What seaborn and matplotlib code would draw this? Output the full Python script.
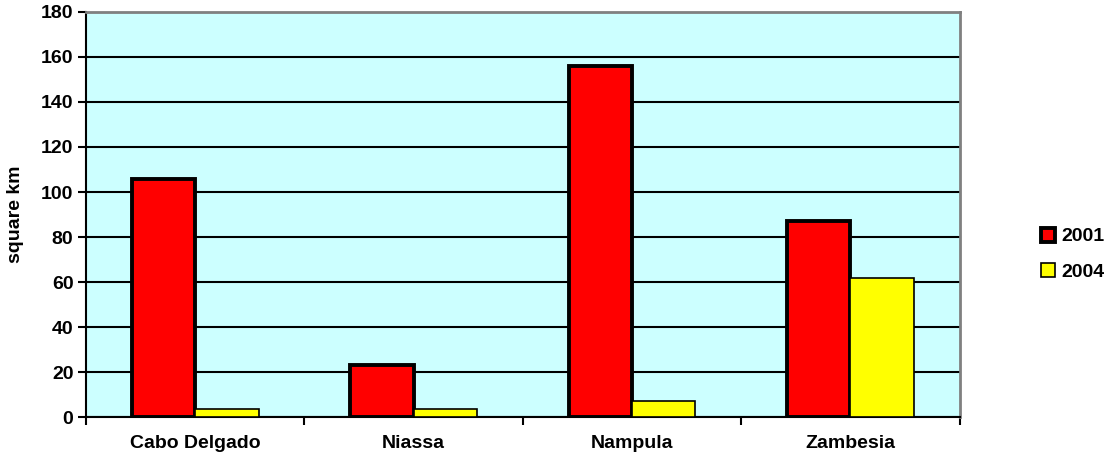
import pandas as pd
import matplotlib
matplotlib.use('Agg')
import matplotlib.pyplot as plt
import seaborn as sns

provinces = ['Cabo Delgado', 'Niassa', 'Nampula', 'Zambesia']
years = ['2001', '2004']
area_2001 = [106, 23, 156, 87]
area_2004 = [3.5, 3.5, 7, 62]

df = pd.DataFrame({
    'province': provinces * 2,
    'year': [years[0]] * 4 + [years[1]] * 4,
    'area': area_2001 + area_2004,
})

sns.set_style('white')
plt.rcParams['font.family'] = ['Liberation Sans', 'DejaVu Sans']
plt.rcParams['font.weight'] = 'bold'
plt.rcParams['text.color'] = 'black'
plt.rcParams['xtick.color'] = 'black'
plt.rcParams['ytick.color'] = 'black'
plt.rcParams['axes.labelcolor'] = 'black'

FS = 14

fig = plt.figure(figsize=(11.12, 4.61), dpi=100)
ax = fig.add_axes([0.0773, 0.0954, 0.7857, 0.8786])
ax.set_facecolor('#CCFFFF')

sns.barplot(data=df, x='province', y='area', hue='year', order=provinces,
            hue_order=years, palette=['#FF0000', '#FFFF00'], width=0.58,
            saturation=1, ax=ax, zorder=3)

# red bars get a heavy outline, yellow a thin one
for bar, yr in zip(ax.patches, [years[0]] * 4 + [years[1]] * 4):
    bar.set_edgecolor('black')
    bar.set_linewidth(2.8 if yr == '2001' else 1.2)

ax.set_ylim(0, 180)
ax.set_yticks(range(0, 181, 20))
ax.yaxis.grid(True, color='black', linewidth=1.5, zorder=1)
ax.set_axisbelow(True)
ax.set_xlim(-0.5, 3.5)
ax.set_xticks([-0.5, 0.5, 1.5, 2.5, 3.5])
ax.set_xticklabels([])
ax.set_xticks(range(4), minor=True)
ax.set_xticklabels(provinces, minor=True, fontsize=FS, fontweight='bold')
ax.tick_params(axis='x', which='minor', length=0, pad=13)
ax.tick_params(axis='x', which='major', length=6, width=1.5, direction='out', bottom=True)
ax.tick_params(axis='y', length=6, width=1.5, direction='out', left=True, labelsize=FS, pad=3)
for lab in ax.get_yticklabels():
    lab.set_fontweight('bold')

ax.set_xlabel('')
ax.set_ylabel('square km', fontsize=FS, fontweight='bold', labelpad=12)

for side in ['left', 'bottom']:
    ax.spines[side].set_color('black')
    ax.spines[side].set_linewidth(1.5)
for side in ['top', 'right']:
    ax.spines[side].set_visible(True)
    ax.spines[side].set_color('#808080')
    ax.spines[side].set_linewidth(2)

handles, labels = ax.get_legend_handles_labels()
leg = ax.legend(handles, labels, loc='center left', bbox_to_anchor=(1.093, 0.402),
                frameon=False, prop={'weight': 'bold', 'size': FS}, borderpad=0,
                borderaxespad=0, handlelength=0.75, handleheight=0.75,
                handletextpad=0.3, labelspacing=0.9)
for h, lw in zip(leg.legend_handles, [2.8, 1.2]):
    h.set_edgecolor('black')
    h.set_linewidth(lw)

fig.savefig('out.png', dpi=100)
